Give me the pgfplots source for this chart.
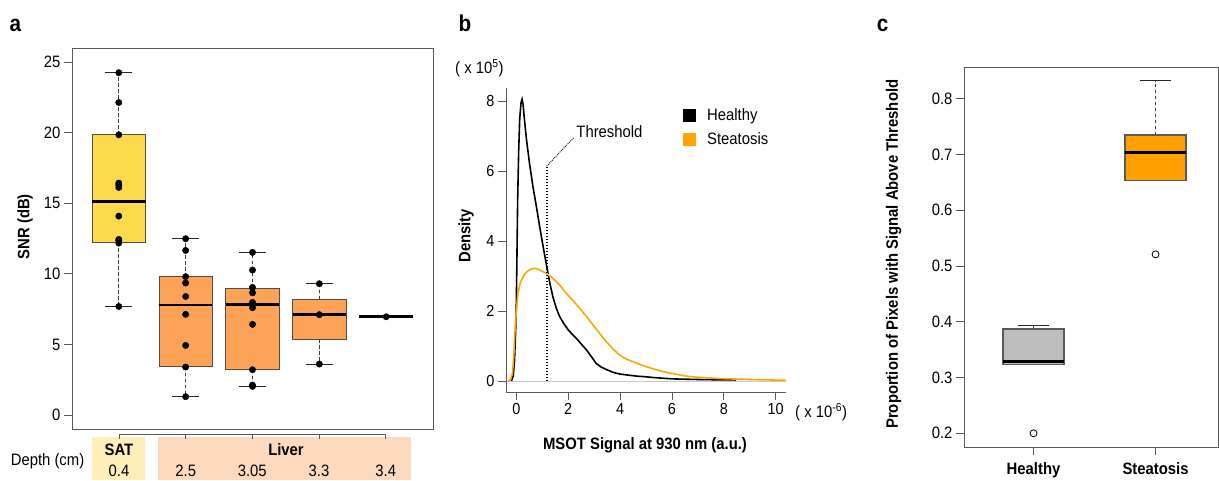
\documentclass[border=0pt]{standalone}
\usepackage{fontspec}
\setmainfont[FakeStretch=0.9]{Liberation Sans}
\usepackage{pgfplots}
\pgfplotsset{compat=1.18}
\usepgfplotslibrary{statistics}

\definecolor{SatFill}{RGB}{253,218,77}
\definecolor{LiverFill}{RGB}{253,163,88}
\definecolor{SatBand}{RGB}{254,238,186}
\definecolor{LiverBand}{RGB}{253,218,190}
\definecolor{BoxBorder}{RGB}{85,75,65}
\definecolor{FrameGray}{RGB}{90,90,90}
\definecolor{HealthyFill}{RGB}{190,190,190}
\definecolor{SteatFill}{RGB}{255,160,0}
\definecolor{CurveOrange}{RGB}{255,165,0}
\definecolor{ZeroGray}{RGB}{200,200,200}

\newcommand{\fs}{\fontsize{16.5}{19}\selectfont}

% R-like whiskers: dashed stem, solid staple half the box wide
% (#1 = quartile, #2 = whisker end)
\pgfplotsset{
  /pgfplots/boxplot/draw/whisker/.code 2 args={%
    \draw[black!75, line width=1pt, dash pattern=on 3.5pt off 2.5pt]
      (boxplot cs:#1) -- (boxplot cs:#2);
    \draw[black!85, line width=0.9pt]
      (boxplot box cs:#2,0.25) -- (boxplot box cs:#2,0.75);
  },
  rstyle/.style={
    scale only axis,
    anchor=south west,
    tick align=outside,
    major tick length=8pt,
    xtick pos=bottom, ytick pos=left,
    tick style={line width=0.8pt, color=FrameGray},
    axis line style={line width=0.8pt, color=FrameGray},
    tick label style={font=\fs},
    /pgf/number format/assume math mode=true,
    boxplot/draw direction=y,
  },
}

\begin{document}
\begin{tikzpicture}[x=1pt, y=1pt]
\useasboundingbox (0,0) rectangle (1219,480);

% ---------------- panel a ----------------
\begin{axis}[rstyle, at={(72pt,51pt)}, width=361pt, height=381pt,
  xmin=0.3, xmax=5.7, ymin=-0.99, ymax=26,
  xtick=\empty, ytick={0,5,10,15,20,25},
  boxplot/every median/.style={line width=2.6pt, black}]
\addplot[boxplot prepared={draw position=1, box extend=0.8,
  lower whisker=7.69, lower quartile=12.23, median=15.11,
  upper quartile=19.85, upper whisker=24.25},
  draw=BoxBorder, line width=0.8pt, fill=SatFill] coordinates {};
\addplot[boxplot prepared={draw position=2, box extend=0.8,
  lower whisker=1.30, lower quartile=3.42, median=7.79,
  upper quartile=9.80, upper whisker=12.49},
  draw=BoxBorder, line width=0.8pt, fill=LiverFill] coordinates {};
\addplot[boxplot prepared={draw position=3, box extend=0.8,
  lower whisker=2.03, lower quartile=3.21, median=7.81,
  upper quartile=8.99, upper whisker=11.52},
  draw=BoxBorder, line width=0.8pt, fill=LiverFill] coordinates {};
\addplot[boxplot prepared={draw position=4, box extend=0.8,
  lower whisker=3.61, lower quartile=5.36, median=7.11,
  upper quartile=8.19, upper whisker=9.30},
  draw=BoxBorder, line width=0.8pt, fill=LiverFill] coordinates {};
\addplot[boxplot prepared={draw position=5, box extend=0.8,
  lower whisker=6.96, lower quartile=6.96, median=6.96,
  upper quartile=6.96, upper whisker=6.96},
  draw=black, line width=0.8pt, fill=LiverFill] coordinates {};
% individual measurements
\addplot[only marks, mark=*, mark size=3.2pt, black] coordinates {
  (1,24.25) (1,22.14) (1,19.85) (1,16.43) (1,16.29) (1,16.12)
  (1,14.09) (1,12.44) (1,12.35) (1,12.18) (1,7.69)
  (2,12.49) (2,11.66) (2,9.80) (2,9.35) (2,8.40) (2,7.13)
  (2,4.93) (2,3.40) (2,1.30)
  (3,11.52) (3,10.27) (3,9.04) (3,8.66) (3,7.98) (3,7.60)
  (3,6.42) (3,3.21) (3,2.12) (3,2.03)
  (4,9.30) (4,7.11) (4,3.61)
  (5,6.96)};
\end{axis}

% depth strip under panel a
\fill[SatBand] (92.3,0) rectangle (145,43.5);
\fill[LiverBand] (157.7,0) rectangle (411,43.5);
\draw[FrameGray, line width=0.8pt] (119,45.7) -- (385.7,45.7);
\foreach \xx in {119,185.7,252.3,319,385.7}
  \draw[FrameGray, line width=0.8pt] (\xx,45.7) -- (\xx,41);
\node[anchor=base, font=\fs\bfseries, inner sep=0pt] at (119,24.3) {SAT};
\node[anchor=base, font=\fs\bfseries, inner sep=0pt] at (286,24.3) {Liver};
\node[anchor=base, font=\fs, inner sep=0pt] at (119,4) {0.4};
\node[anchor=base, font=\fs, inner sep=0pt] at (185.7,4) {2.5};
\node[anchor=base, font=\fs, inner sep=0pt] at (252.3,4) {3.05};
\node[anchor=base, font=\fs, inner sep=0pt] at (319,4) {3.3};
\node[anchor=base, font=\fs, inner sep=0pt] at (385.7,4) {3.4};
\node[anchor=base, font=\fs, inner sep=0pt] at (47.5,14.3) {Depth (cm)};
\node[rotate=90, font=\fs\bfseries, inner sep=0pt] at (25,253.3) {SNR (dB)};

% ---------------- panel b ----------------
\begin{axis}[rstyle, at={(506pt,88pt)}, width=280pt, height=304pt,
  axis lines*=left,
  xmin=-0.4, xmax=10.4, ymin=-0.314, ymax=8.37,
  xtick={0,2,4,6,8,10}, ytick={0,2,4,6,8},
  tick label style={font=\fontsize{16}{19}\selectfont},
  legend style={at={(0.632,0.94)}, anchor=north west, draw=none, fill=none,
    font=\fs, row sep=7pt, inner sep=0pt},
  legend cell align=left,
  legend image code/.code={\fill[#1, draw=none] (0pt,-6.5pt) rectangle (13pt,6.5pt);
    \path[draw=none, fill=none] (0pt,-1pt) rectangle (22pt,1pt);}]
\addplot[forget plot, ZeroGray, line width=0.8pt] coordinates {(-0.36,0) (10.4,0)};
\addplot[black, line width=1.6pt] coordinates {
  (-0.19,0) (-0.12,0.15) (-0.07,0.6) (-0.02,1.6) (0,2.3) (0.03,4.0)
  (0.05,5.2) (0.09,6.6) (0.13,7.5) (0.18,7.95) (0.22,8.05) (0.26,7.9)
  (0.30,7.55) (0.39,6.9) (0.50,6.25) (0.64,5.55) (0.78,4.95) (0.90,4.4)
  (1.03,3.85) (1.17,3.27) (1.29,2.8) (1.41,2.4) (1.54,2.08) (1.67,1.84)
  (1.83,1.64) (2.00,1.46) (2.15,1.34) (2.31,1.22) (2.50,1.06) (2.70,0.89)
  (2.89,0.70) (3.08,0.50) (3.27,0.40) (3.47,0.33) (3.72,0.25) (3.98,0.20)
  (4.30,0.17) (4.63,0.14) (5.00,0.12) (5.27,0.10) (5.65,0.08) (6.04,0.06)
  (6.60,0.05) (7.20,0.04) (7.80,0.035) (8.48,0.03)};
\addplot[CurveOrange, line width=1.6pt] coordinates {
  (-0.32,0) (-0.22,0.05) (-0.15,0.22) (-0.10,0.7) (-0.06,1.36) (0,2.0)
  (0.06,2.5) (0.15,2.8) (0.26,2.98) (0.35,3.08) (0.45,3.15) (0.58,3.2)
  (0.71,3.22) (0.80,3.2) (0.90,3.17) (1.03,3.12) (1.16,3.08) (1.35,2.97)
  (1.54,2.84) (1.74,2.68) (1.93,2.5) (2.18,2.3) (2.44,2.08) (2.70,1.85)
  (2.96,1.6) (3.22,1.35) (3.47,1.12) (3.72,0.92) (3.98,0.74) (4.24,0.63)
  (4.50,0.55) (4.75,0.48) (5.01,0.41) (5.27,0.35) (5.53,0.29) (5.85,0.24)
  (6.17,0.19) (6.55,0.14) (6.94,0.11) (7.40,0.09) (7.84,0.07) (8.50,0.055)
  (9.13,0.04) (9.80,0.03) (10.39,0.02)};
\legend{Healthy, Steatosis}
\draw[line width=1.8pt, dash pattern=on 1.5pt off 1.5pt] (axis cs:1.17,0) -- (axis cs:1.17,6.14);
\draw[line width=0.9pt, densely dotted] (axis cs:1.17,6.14) -- (axis cs:2.21,6.95);
\node[anchor=west, font=\fs, inner sep=0pt] at (axis cs:2.31,7.12) {Threshold};
\end{axis}
\node[anchor=base west, font=\fs, inner sep=0pt] at (455,406.7) {( x 10\textsuperscript{5})};
\node[anchor=base west, font=\fs, inner sep=0pt] at (795,62.7) {( x 10\textsuperscript{-6})};
\node[font=\fs\bfseries, inner sep=0pt] at (645,35) {MSOT Signal at 930 nm (a.u.)};
\node[rotate=90, font=\fs\bfseries, inner sep=0pt] at (466,244.2) {Density};

% ---------------- panel c ----------------
\begin{axis}[rstyle, at={(964pt,33pt)}, width=254.5pt, height=380pt,
  xmin=0.43, xmax=2.516, ymin=0.1754, ymax=0.857,
  xtick={1,2}, xticklabels={Healthy, Steatosis},
  xticklabel style={font=\fs\bfseries, yshift=-4pt},
  ytick={0.2,0.3,0.4,0.5,0.6,0.7,0.8},
  yticklabel style={/pgf/number format/.cd, fixed, fixed zerofill, precision=1},
  boxplot/every median/.style={line width=2.6pt, black}]
\addplot[boxplot prepared={draw position=1, box extend=0.5,
  lower whisker=0.323, lower quartile=0.323, median=0.329,
  upper quartile=0.387, upper whisker=0.394},
  draw=FrameGray, line width=1.2pt, fill=HealthyFill] coordinates {};
\addplot[boxplot prepared={draw position=2, box extend=0.5,
  lower whisker=0.654, lower quartile=0.654, median=0.704,
  upper quartile=0.735, upper whisker=0.832},
  draw=FrameGray, line width=1.2pt, fill=SteatFill] coordinates {};
\addplot[only marks, mark=o, mark size=3.5pt, black, line width=0.8pt]
  coordinates {(1,0.200) (2,0.521)};
\end{axis}
\node[rotate=90, font=\fs\bfseries, inner sep=0pt] at (893.7,225.8)
  {Proportion of Pixels with Signal Above Threshold};

% panel letters
\node[anchor=base, font=\fontsize{23}{26}\selectfont\bfseries, inner sep=0pt] at (15.3,448) {a};
\node[anchor=base, font=\fontsize{23}{26}\selectfont\bfseries, inner sep=0pt] at (465,448) {b};
\node[anchor=base, font=\fontsize{23}{26}\selectfont\bfseries, inner sep=0pt] at (882.6,448) {c};
\end{tikzpicture}
\end{document}
